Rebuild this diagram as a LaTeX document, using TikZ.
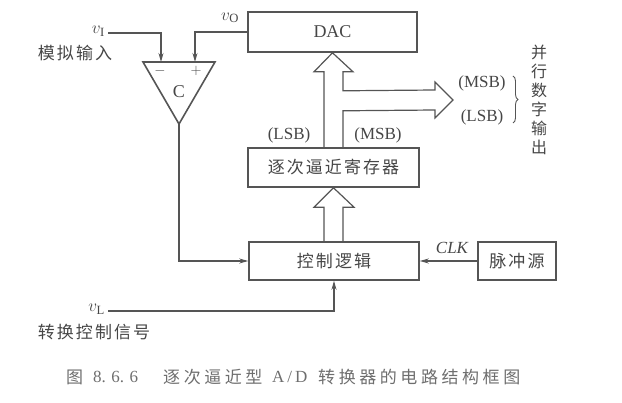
\documentclass[tikz,border=0pt]{standalone}
\usepackage{fontspec}
\setmainfont{Liberation Serif}
\newfontfamily\cjk{Noto Sans CJK SC}[LetterSpace=12]
\newfontfamily\cjkcap{Noto Sans CJK SC}[LetterSpace=21]
\usetikzlibrary{arrows.meta,calc,decorations.pathreplacing}
\definecolor{ink}{RGB}{85,85,85}
\definecolor{txt}{RGB}{70,70,70}
\definecolor{captxt}{RGB}{110,110,110}
\tikzset{
  box/.style={draw=ink, line width=1.6pt, inner sep=0pt, text=txt},
  conn/.style={draw=ink, line width=1.1pt},
  arr/.style={conn, -{Stealth[length=9pt,width=5pt]}},
  wide/.style={draw=ink, line width=1.2pt, line join=miter},
  lbl/.style={text=txt, inner sep=0pt},
  caplbl/.style={text=captxt, inner sep=0pt, anchor=west},
}
\begin{document}
\begin{tikzpicture}[x=1pt,y=-1pt]
\useasboundingbox (0,0) rectangle (622,403);
% boxes
\node[box, minimum width=169pt, minimum height=40pt, font=\fontsize{18}{20}\selectfont] (dac) at (332.5,32) {DAC};
\node[box, minimum width=171pt, minimum height=39pt, font=\fontsize{17}{19}\selectfont\cjk] (reg) at (333.5,167.5) {逐次逼近寄存器};
\node[box, minimum width=170pt, minimum height=38pt, font=\fontsize{17}{19}\selectfont\cjk] (ctrl) at (334,261) {控制逻辑};
\node[box, minimum width=78pt, minimum height=38pt, font=\fontsize{17}{19}\selectfont\cjk] (pulse) at (517,261) {脉冲源};
% comparator
\coordinate (tl) at (143,62);
\coordinate (tr) at (215,62);
\coordinate (apex) at (179,124);
\draw[ink, line width=1.6pt, line join=miter] (tl) -- (tr) -- (apex) -- cycle;
\node[lbl, font=\fontsize{18}{20}\selectfont] (cmpC) at (179,92) {C};
\node[lbl, font=\fontsize{15}{17}\selectfont] (cmpm) at (160,71) {$-$};
\node[lbl, font=\fontsize{15}{17}\selectfont] (cmpp) at (196,71) {$+$};
\coordinate (cminus) at (161,62);
\coordinate (cplus) at (195,62);
% inputs
\coordinate (vi) at (108,33);
\node[lbl, anchor=east, font=\fontsize{18}{20}\selectfont] (vilbl) at (105,31) {$v_{\mathrm{I}}$};
\node[lbl, font=\fontsize{17}{19}\selectfont\cjk] (vitxt) at (75,53) {模拟输入};
\draw[arr] (vi) -| (cminus);
\draw[arr] (dac.west) -| (cplus);
\node[lbl, font=\fontsize{18}{20}\selectfont] (volbl) at (230,18) {$v_{\mathrm{O}}$};
\draw[arr] (apex) |- (ctrl.west);
\coordinate (vl) at (108,311);
\node[lbl, anchor=east, font=\fontsize{18}{20}\selectfont] (vllbl) at (105,309) {$v_{\mathrm{L}}$};
\node[lbl, font=\fontsize{17}{19}\selectfont\cjk] (vltxt) at (94,332) {转换控制信号};
\draw[arr] (vl) -| (ctrl.south);
\draw[arr] (pulse.west) -- (ctrl.east);
\node[lbl, font=\fontsize{17}{19}\selectfont\itshape] (clk) at (452,248) {CLK};
% wide arrow ctrl -> reg
\draw[wide] ($(ctrl.north)+(-10,0)$) -- ++(0,-34) -- ++(-10,0) -- ($(reg.south)$) -- ($(ctrl.north)+(20,-34)$) -- ++(-11,0) -- ($(ctrl.north)+(9,0)$);
% wide arrow reg -> dac with branch
\draw[wide] ($(reg.north)+(-9.5,0)$) -- ($(dac.south)+(-8.5,19)$) -- ++(-10,0) -- (dac.south) -- ($(dac.south)+(20.5,19)$) -- ++(-10,0) -- ++(0,19) -- (435,90) -- (435,82) -- (453,100) -- (435,118) -- (435,110) -- ($(dac.south)+(10.5,58)$) -- ($(reg.north)+(9.5,0)$);
\node[lbl, font=\fontsize{17}{19}\selectfont] (lsbL) at (289,135) {(LSB)};
\node[lbl, font=\fontsize{17}{19}\selectfont] (msbL) at (378,135) {(MSB)};
\node[lbl, font=\fontsize{17}{19}\selectfont] (msbR) at (482,83) {(MSB)};
\node[lbl, font=\fontsize{17}{19}\selectfont] (lsbR) at (482,117) {(LSB)};
\draw[ink, line width=0.9pt, decorate, decoration={brace, amplitude=5pt}] (513,76) -- (513,123);
\node[lbl, align=center, font=\fontsize{16}{19}\selectfont\cjk] (par) at (539,100) {并\\行\\数\\字\\输\\出};
% caption
\node[caplbl, font=\fontsize{17}{19}\selectfont\cjk] (cap1) at (66,377) {图};
\node[caplbl, font=\fontsize{17}{19}\selectfont] (cap2) at (93,377) {8.\hspace{5.5pt}6.\hspace{5.5pt}6};
\node[caplbl, font=\fontsize{17}{19}\selectfont\cjkcap] (cap3) at (163,377) {逐次逼近型};
\node[caplbl, font=\fontsize{17}{19}\selectfont] (cap4) at (272,377) {A\hspace{3pt}/\hspace{3pt}D};
\node[caplbl, font=\fontsize{17}{19}\selectfont\cjkcap] (cap5) at (318,377) {转换器的电路结构框图};
\end{tikzpicture}
\end{document}
